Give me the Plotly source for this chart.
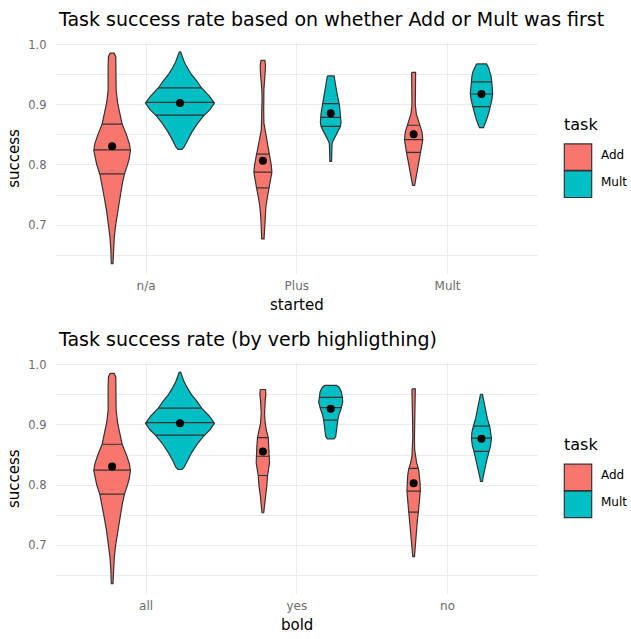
import numpy as np
import plotly.graph_objects as go

# ---------------- data ----------------
TASKS = ["Add", "Mult"]
TOP_CATEGORIES = ["n/a", "Plus", "Mult"]
BOTTOM_CATEGORIES = ["all", "yes", "no"]
Y_TICK_VALUES = [0.7, 0.8, 0.9, 1.0]
Y_TICK_LABELS = ["0.7", "0.8", "0.9", "1.0"]

# violin density profiles: success level -> relative density (width)
na_add_level = [0.986, 0.980, 0.965, 0.945, 0.925, 0.905, 0.890, 0.868, 0.850, 0.835, 0.824,
                0.810, 0.800, 0.785, 0.770, 0.750, 0.725, 0.700, 0.680, 0.660, 0.636]
na_add_density = [12, 22, 24, 22, 24, 32, 43, 60, 86, 104, 110, 102, 92, 74, 62, 50, 34, 21, 13, 8, 5]

na_mult_level = [0.988, 0.980, 0.970, 0.960, 0.950, 0.940, 0.928, 0.915, 0.903, 0.892, 0.882,
                 0.870, 0.855, 0.840, 0.830, 0.826]
na_mult_density = [4, 14, 28, 48, 70, 100, 130, 175, 207, 180, 143, 108, 72, 42, 25, 12]

plus_add_level = [0.974, 0.965, 0.950, 0.940, 0.925, 0.910, 0.890, 0.870, 0.860, 0.850, 0.840,
                  0.830, 0.818, 0.800, 0.788, 0.775, 0.762, 0.745, 0.730, 0.710, 0.690, 0.677]
plus_add_density = [12, 16, 14, 10, 6, 5, 5, 6, 9, 15, 22, 30, 38, 50, 54, 48, 38, 26, 18, 12, 9, 7]

plus_mult_level = [0.948, 0.940, 0.930, 0.917, 0.900, 0.886, 0.871, 0.864, 0.855, 0.849, 0.840,
                   0.835, 0.820, 0.806]
plus_mult_density = [20, 25, 31, 39, 52, 58, 62, 58, 42, 30, 14, 8, 6, 5]

mult_add_level = [0.954, 0.940, 0.920, 0.900, 0.885, 0.873, 0.866, 0.855, 0.842, 0.830, 0.821,
                  0.808, 0.796, 0.780, 0.766]
mult_add_density = [12, 12, 10, 10, 16, 28, 38, 50, 55, 50, 43, 34, 25, 15, 6]

mult_mult_level = [0.968, 0.962, 0.956, 0.948, 0.938, 0.928, 0.919, 0.908, 0.897, 0.888, 0.879,
                   0.870, 0.862]
mult_mult_density = [30, 42, 50, 57, 62, 66, 67, 62, 53, 45, 35, 24, 12]

all_add_level = na_add_level
all_add_density = na_add_density
all_mult_level = na_mult_level
all_mult_density = na_mult_density

yes_add_level = [0.959, 0.950, 0.941, 0.930, 0.919, 0.903, 0.890, 0.879, 0.865, 0.848, 0.837,
                 0.826, 0.816, 0.800, 0.793, 0.780, 0.771, 0.760, 0.754]
yes_add_density = [16, 18, 14, 11, 10, 14, 22, 32, 36, 38, 40, 34, 28, 24, 20, 14, 12, 8, 5]

yes_mult_level = [0.966, 0.962, 0.955, 0.946, 0.938, 0.927, 0.918, 0.908, 0.898, 0.888, 0.881, 0.877]
yes_mult_density = [36, 52, 64, 70, 72, 62, 50, 42, 38, 35, 30, 20]

no_add_level = [0.960, 0.950, 0.930, 0.903, 0.880, 0.859, 0.848, 0.837, 0.826, 0.815, 0.803,
                0.790, 0.776, 0.765, 0.754, 0.740, 0.721, 0.699, 0.681]
no_add_density = [10, 10, 8, 6, 5, 6, 10, 18, 30, 36, 39, 40, 36, 32, 28, 22, 15, 9, 5]

no_mult_level = [0.951, 0.940, 0.930, 0.920, 0.911, 0.897, 0.888, 0.878, 0.866, 0.856, 0.846,
                 0.837, 0.828, 0.820, 0.812, 0.806]
no_mult_density = [6, 13, 20, 28, 35, 50, 57, 60, 55, 45, 36, 28, 20, 14, 9, 6]

# quartiles (25%, 50%, 75%) and means per category
top_add_quartiles = [[0.785, 0.825, 0.868], [0.762, 0.788, 0.818], [0.821, 0.842, 0.866]]
top_mult_quartiles = [[0.883, 0.904, 0.928], [0.864, 0.879, 0.902], [0.897, 0.918, 0.938]]
top_add_means = [0.831, 0.807, 0.851]
top_mult_means = [0.903, 0.886, 0.918]

bottom_add_quartiles = [[0.785, 0.825, 0.868], [0.816, 0.848, 0.879], [0.755, 0.790, 0.828]]
bottom_mult_quartiles = [[0.883, 0.904, 0.928], [0.908, 0.929, 0.946], [0.856, 0.878, 0.898]]
bottom_add_means = [0.831, 0.856, 0.803]
bottom_mult_means = [0.903, 0.927, 0.877]

# ---------------- styling ----------------
W, H = 631, 639
COLORS = {"Add": "#F8766D", "Mult": "#00BFC4"}
OUTLINE = "#333333"
GRID = "#EBEBEB"
TICK_COLOR = "#6B6B6B"
FONT = "DejaVu Sans, Liberation Sans, sans-serif"
DODGE = 0.225
DENSITY_TO_HALFWIDTH = 1 / 904.0
TEXT_SHIFT = 2.5  # annotation middle-anchor correction (px)

PANEL_X = (55.6, 538.0)
PANELS = [  # (px y of value 1.0)
    dict(y1=40.0, title="Task success rate based on whether Add or Mult was first",
         xtitle="started", cats=TOP_CATEGORIES,
         profiles={"Add": [(na_add_level, na_add_density), (plus_add_level, plus_add_density),
                           (mult_add_level, mult_add_density)],
                   "Mult": [(na_mult_level, na_mult_density), (plus_mult_level, plus_mult_density),
                            (mult_mult_level, mult_mult_density)]},
         quart={"Add": top_add_quartiles, "Mult": top_mult_quartiles},
         means={"Add": top_add_means, "Mult": top_mult_means}),
    dict(y1=362.7, title="Task success rate (by verb highligthing)",
         xtitle="bold", cats=BOTTOM_CATEGORIES,
         profiles={"Add": [(all_add_level, all_add_density), (yes_add_level, yes_add_density),
                           (no_add_level, no_add_density)],
                   "Mult": [(all_mult_level, all_mult_density), (yes_mult_level, yes_mult_density),
                            (no_mult_level, no_mult_density)]},
         quart={"Add": bottom_add_quartiles, "Mult": bottom_mult_quartiles},
         means={"Add": bottom_add_means, "Mult": bottom_mult_means}),
]
PX_PER_UNIT = 606.0
Y_RANGE = (0.6185, 1.0035)

fig = go.Figure()
layout = dict(width=W, height=H, margin=dict(l=0, r=0, t=0, b=0),
              paper_bgcolor="white", plot_bgcolor="white", showlegend=False,
              font=dict(family=FONT))
annotations = []
shapes = []


def py(px):
    return 1 - px / H


def pxx(px):
    return px / W


for i, p in enumerate(PANELS):
    ax = "" if i == 0 else str(i + 1)
    xref, yref = "x" + ax, "y" + ax
    top_px = p["y1"] - (Y_RANGE[1] - 1.0) * PX_PER_UNIT
    bot_px = p["y1"] + (1.0 - Y_RANGE[0]) * PX_PER_UNIT

    for t_i, task in enumerate(TASKS):
        offset = -DODGE if task == "Add" else DODGE
        qx, qy = [], []
        mx, my = [], []
        for c_i, (lev, dens) in enumerate(p["profiles"][task]):
            center = c_i + 1 + offset
            lev = np.asarray(lev, float)
            hw = np.asarray(dens, float) * DENSITY_TO_HALFWIDTH
            xs = np.concatenate([center - hw, (center + hw)[::-1], [center - hw[0]]])
            ys = np.concatenate([lev, lev[::-1], [lev[0]]])
            fig.add_trace(go.Scatter(x=xs, y=ys, mode="lines", fill="toself",
                                     fillcolor=COLORS[task],
                                     line=dict(color=OUTLINE, width=1.2),
                                     xaxis=xref, yaxis=yref, hoverinfo="skip"))
            order = np.argsort(lev)
            for q in p["quart"][task][c_i]:
                h = np.interp(q, lev[order], hw[order])
                qx += [center - h, center + h, None]
                qy += [q, q, None]
            mx.append(center)
            my.append(p["means"][task][c_i])
        fig.add_trace(go.Scatter(x=qx, y=qy, mode="lines",
                                 line=dict(color=OUTLINE, width=1.2),
                                 xaxis=xref, yaxis=yref, hoverinfo="skip"))
        fig.add_trace(go.Scatter(x=mx, y=my, mode="markers",
                                 marker=dict(color="black", size=8),
                                 xaxis=xref, yaxis=yref, hoverinfo="skip"))

    layout["xaxis" + ax] = dict(
        domain=[pxx(PANEL_X[0]), pxx(PANEL_X[1])], range=[0.4, 3.6],
        tickvals=[1, 2, 3], ticktext=p["cats"], showgrid=True, gridcolor=GRID,
        gridwidth=1.2, zeroline=False, showline=False, ticks="",
        ticklabelstandoff=3, tickfont=dict(size=12, color=TICK_COLOR),
        anchor=yref, fixedrange=True)
    layout["yaxis" + ax] = dict(
        domain=[py(bot_px), py(top_px)], range=list(Y_RANGE),
        tickvals=Y_TICK_VALUES, ticktext=Y_TICK_LABELS, showgrid=True, gridcolor=GRID,
        gridwidth=1.2, zeroline=False, showline=False, ticks="",
        ticklabelstandoff=8, tickfont=dict(size=11.5, color=TICK_COLOR),
        minor=dict(tickvals=[0.65, 0.75, 0.85, 0.95], showgrid=True, gridcolor=GRID,
                   gridwidth=0.8),
        anchor=xref, fixedrange=True)

    dy = p["y1"] - 40.0
    # plot title
    annotations.append(dict(text=p["title"], x=pxx(56), y=py(16.3 + dy - TEXT_SHIFT),
                            xref="paper", yref="paper",
                            xanchor="left", yanchor="middle", showarrow=False,
                            font=dict(size=19, color="black")))
    # axis titles
    annotations.append(dict(text=p["xtitle"], x=pxx((PANEL_X[0] + PANEL_X[1]) / 2),
                            y=py(305 + dy - TEXT_SHIFT), xref="paper", yref="paper",
                            xanchor="center", yanchor="middle", showarrow=False,
                            font=dict(size=15, color="black")))
    annotations.append(dict(text="success", x=pxx(14.5), y=py((top_px + bot_px) / 2),
                            xref="paper", yref="paper", textangle=-90,
                            xanchor="center", yanchor="middle", showarrow=False,
                            font=dict(size=15, color="black")))
    # legend
    annotations.append(dict(text="task", x=pxx(562), y=py(123 + dy - TEXT_SHIFT),
                            xref="paper", yref="paper",
                            xanchor="left", yanchor="middle", showarrow=False,
                            font=dict(size=16, color="black")))
    for k, task in enumerate(TASKS):
        y0 = 140 + dy + k * 27.3
        shapes.append(dict(type="rect", xref="paper", yref="paper",
                           x0=pxx(564.3), x1=pxx(591.7), y0=py(y0), y1=py(y0 + 26.7),
                           fillcolor=COLORS[task], line=dict(color=OUTLINE, width=1.2)))
        annotations.append(dict(text=task, x=pxx(599), y=py(y0 + 13.4 - TEXT_SHIFT),
                                xref="paper", yref="paper", xanchor="left", yanchor="middle",
                                showarrow=False, font=dict(size=12, color="black")))

layout["annotations"] = annotations
layout["shapes"] = shapes
fig.update_layout(**layout)
fig.write_html("out.html", config={"displayModeBar": False},
               post_script="document.body.style.margin='0px';document.body.style.overflow='hidden';")
